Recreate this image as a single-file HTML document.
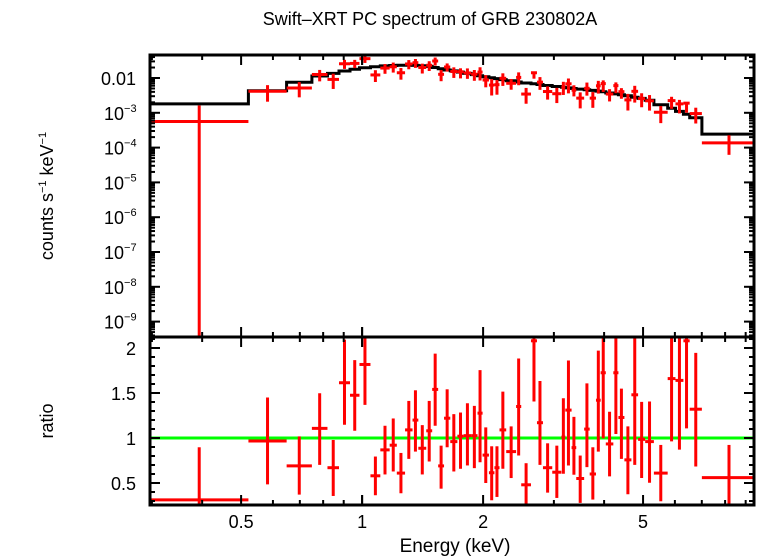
<!DOCTYPE html>
<html><head><meta charset="utf-8"><style>
html,body{margin:0;padding:0;background:#fff;}
svg{display:block;font-family:"Liberation Sans",sans-serif;}
</style></head><body>
<svg id="chart" width="758" height="556" viewBox="0 0 758 556" xmlns="http://www.w3.org/2000/svg">
<text x="430" y="25" font-size="18" text-anchor="middle">Swift–XRT PC spectrum of GRB 230802A</text>
<text transform="translate(53,196) rotate(-90)" font-size="18" text-anchor="middle">counts s<tspan font-size="11" dy="-7">−1</tspan><tspan dy="7"> keV</tspan><tspan font-size="11" dy="-7">−1</tspan></text>
<text transform="translate(53,421) rotate(-90)" font-size="18" text-anchor="middle">ratio</text>
<text x="455" y="552" font-size="19" text-anchor="middle">Energy (keV)</text>
<g id="g-top"></g>
<g id="g-bot"></g>
</svg>
<script>
const binEdges=[0.2967,0.5214,0.649,0.750,0.820,0.876,0.933,0.985,1.049,1.110,1.171,1.220,1.279,1.335,1.380,1.444,1.494,1.546,1.599,1.657,1.726,1.789,1.868,1.937,1.994,2.068,2.134,2.197,2.283,2.416,2.488,2.631,2.723,2.818,2.972,3.132,3.203,3.320,3.410,3.568,3.683,3.818,3.922,4.039,4.217,4.342,4.493,4.677,4.860,5.061,5.320,5.757,6.020,6.300,6.530,7.003,9.557];
const modelValues=[1.8e-3,4.3e-3,7.5e-3,0.0114,0.0136,0.0159,0.0178,0.0198,0.0211,0.0222,0.0228,0.0232,0.0232,0.0230,0.0226,0.0215,0.0200,0.0185,0.0170,0.0160,0.0148,0.0136,0.0125,0.0116,0.0108,0.0102,0.0096,0.0090,0.0083,0.0077,0.0072,0.0068,0.0065,0.0061,0.0057,0.0054,0.0052,0.0050,0.0048,0.0046,0.0044,0.0042,0.0040,0.0037,0.0035,0.0033,0.0031,0.0028,0.0026,0.0023,0.0017,0.00135,0.0011,0.00091,0.00072,0.000245];
const ratioValues=[0.312,0.967,0.69,1.107,0.67,1.614,1.475,1.817,0.58,0.868,0.92,0.61,1.09,1.199,0.886,1.08,1.54,0.69,1.22,0.96,1.02,1.026,1.026,1.276,0.81,0.614,0.67,1.09,0.849,1.35,0.48,2.08,1.17,0.67,0.62,1.01,1.31,0.893,0.55,1.099,0.6,1.42,1.725,0.934,1.725,1.228,0.757,1.48,0.985,0.96,0.61,1.66,1.64,2.08,1.32,0.56];
const ratioHi=[0.897,1.45,1.018,1.497,0.978,2.093,1.865,2.137,0.794,1.136,1.217,0.834,1.412,1.53,1.143,1.412,1.938,0.915,1.541,1.265,1.283,1.386,1.357,1.754,1.118,0.908,0.908,1.515,1.129,1.883,0.72,2.137,1.633,0.941,0.915,1.441,1.861,1.235,0.805,1.607,0.897,1.971,2.137,1.291,2.137,1.548,1.129,2.13,1.401,1.405,0.923,2.137,2.137,2.137,1.946,0.923];
const ratioLo=[-0.5,0.485,0.371,0.702,0.356,1.147,1.081,1.368,0.364,0.595,0.628,0.386,0.768,0.849,0.595,0.739,1.136,0.437,0.897,0.628,0.658,0.695,0.665,0.731,0.5,0.308,0.345,0.658,0.555,0.805,0.253,1.405,0.702,0.393,0.334,0.603,0.695,0.592,0.279,0.676,0.316,0.849,0.996,0.573,1.044,0.768,0.375,0.702,0.555,0.503,0.297,0.963,0.871,1.107,0.684,0.253];
const xTickLabels=["0.5","1","2","5"];
const xTickValues=[0.5,1,2,5];
const yTopLabelExp=[-2,-3,-4,-5,-6,-7,-8,-9];
const yBotTicks=[0.5,1,1.5,2];

const NS="http://www.w3.org/2000/svg";
const L=150,R=754,T1=55,B1=337,T2=337,B2=505;
const xmin=Math.log10(0.2967),xmax=Math.log10(9.44);
const X=e=>L+(Math.log10(e)-xmin)/(xmax-xmin)*(R-L);
const Ytop=v=>78+(-2-Math.log10(v))*34.8;
const Ybot=r=>438-(r-1)*90;
function mk(tag,attrs,parent){const e=document.createElementNS(NS,tag);for(const k in attrs)e.setAttribute(k,attrs[k]);parent.appendChild(e);return e;}
const gT=document.getElementById('g-top'),gB=document.getElementById('g-bot');
const clipTop=v=>Math.max(T1,Math.min(B1,v));
const clipBot=v=>Math.max(T2,Math.min(B2,v));

let d="";
for(let i=0;i<modelValues.length;i++){
  const x0=X(binEdges[i]),x1=Math.min(R,X(binEdges[i+1])),y=Ytop(modelValues[i]);
  d+=(i===0?"M":"L")+x0.toFixed(1)+","+y.toFixed(1)+"L"+x1.toFixed(1)+","+y.toFixed(1);
}
const mp=mk('path',{d:d,fill:'none',stroke:'#000','stroke-width':3},gT);



const gl=mk('line',{x1:L,x2:R,y1:Ybot(1),y2:Ybot(1),stroke:'#00ff00','stroke-width':3},gB);



for(let i=0;i<ratioValues.length;i++){
  const e0=binEdges[i],e1=binEdges[i+1],ec=Math.sqrt(e0*e1);
  const x0=X(e0),x1=Math.min(R,X(e1)),xc=X(ec);
  const m=modelValues[i],r=ratioValues[i];
  const gp=mk('g',{stroke:'#ff0000','stroke-width':3},gT);
  
  
  const yc=Ytop(m*r),yh=Ytop(m*ratioHi[i]),yl=ratioLo[i]>0?clipTop(Ytop(m*ratioLo[i])):B1;
  mk('line',{x1:x0,x2:x1,y1:yc,y2:yc},gp);
  mk('line',{x1:xc,x2:xc,y1:clipTop(yh),y2:yl},gp);
  const gr=mk('g',{stroke:'#ff0000','stroke-width':3},gB);
  
  
  const rc=Ybot(r);
  mk('line',{x1:x0,x2:x1,y1:rc,y2:rc},gr);
  mk('line',{x1:xc,x2:xc,y1:clipBot(Ybot(ratioHi[i])),y2:clipBot(Ybot(ratioLo[i]))},gr);
}

const ax=document.getElementById('chart');
const axg=mk('g',{stroke:'#000',fill:'none'},ax);


mk('rect',{x:L,y:T1,width:R-L,height:B2-T1,'stroke-width':3},axg);
mk('line',{x1:L,x2:R,y1:B1,y2:B1,'stroke-width':3},axg);
const minorE=[0.3,0.4,0.6,0.7,0.8,0.9,3,4,6,7,8,9];
const tickSets=[[xTickValues.concat([1]),10],[minorE,5]];
for(const [arr,len] of tickSets){
  for(const e of arr){
    const x=X(e); if(x<L||x>R)continue;
    for(const [yy,dir] of [[T1,1],[B1,-1],[B1,1],[B2,-1]]){
      mk('line',{x1:x,x2:x,y1:yy,y2:yy+dir*len,'stroke-width':2},axg);
    }
  }
}
for(let i=0;i<xTickValues.length;i++){
  const t=mk('text',{x:X(xTickValues[i]),y:528,'font-size':18,'text-anchor':'middle',fill:'#000',stroke:'none'},ax);
  t.textContent=xTickLabels[i];
  
  
}
for(let ex=-10;ex<=-1;ex++){
  for(let k=1;k<10;k++){
    const v=k*Math.pow(10,ex),y=Ytop(v);
    if(y<T1||y>B1)continue;
    const len=k===1?10:5;
    mk('line',{x1:L,x2:L+len,y1:y,y2:y,'stroke-width':2},axg);
    mk('line',{x1:R,x2:R-len,y1:y,y2:y,'stroke-width':2},axg);
  }
}
for(const ex of yTopLabelExp){
  const y=Ytop(Math.pow(10,ex));
  const t=mk('text',{x:136,y:y+7,'font-size':18,'text-anchor':'end',fill:'#000',stroke:'none'},ax);
  
  
  if(ex===-2){t.textContent="0.01";}
  else{t.textContent="10";const s=mk('tspan',{'font-size':11,dy:-8},t);s.textContent="−"+(-ex);
    t.setAttribute('text-anchor','start');t.setAttribute('x',104);}
}
for(let r=0.3;r<=2.15;r+=0.1){
  const y=Ybot(r);if(y<T2||y>B2)continue;
  const major=Math.abs(r*2-Math.round(r*2))<0.01;
  const len=major?10:5;
  mk('line',{x1:L,x2:L+len,y1:y,y2:y,'stroke-width':2},axg);
  mk('line',{x1:R,x2:R-len,y1:y,y2:y,'stroke-width':2},axg);
}
for(const r of yBotTicks){
  const t=mk('text',{x:136,y:Ybot(r)+7,'font-size':18,'text-anchor':'end',fill:'#000',stroke:'none'},ax);
  t.textContent=String(r);
  
  
}
</script>
</body></html>
